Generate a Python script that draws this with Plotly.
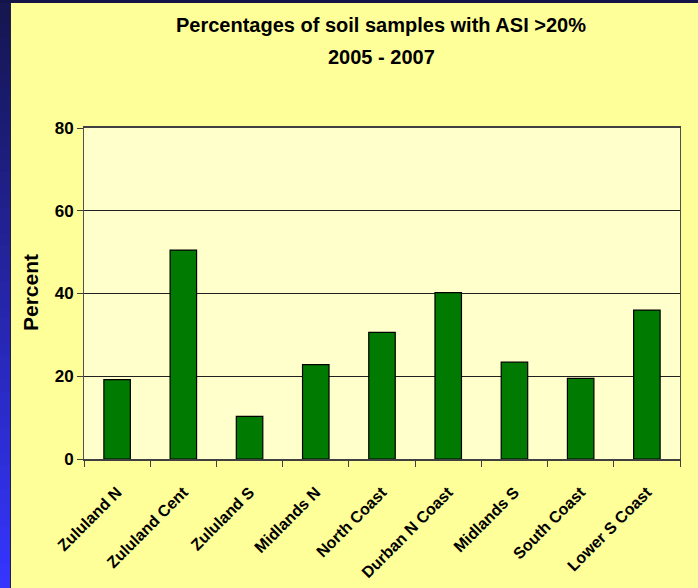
import plotly.graph_objects as go

categories = ["Zululand N", "Zululand Cent", "Zululand S", "Midlands N", "North Coast",
              "Durban N Coast", "Midlands S", "South Coast", "Lower S Coast"]
percent = [19.2, 50.5, 10.3, 22.8, 30.6, 40.2, 23.4, 19.5, 36.0]
y_ticks = [0, 20, 40, 60, 80]
title_lines = ["Percentages of soil samples with ASI >20%", "2005 - 2007"]
y_title = "Percent"

W, H = 698, 588
FONT = "Liberation Sans, Arial, sans-serif"

fig = go.Figure()
fig.add_trace(go.Bar(
    x=categories, y=percent,
    marker=dict(color="#007A00", line=dict(color="#000000", width=1.2)),
))

fig.update_layout(
    width=W, height=H,
    margin=dict(l=84, r=18, t=128, b=129, autoexpand=False),
    paper_bgcolor="#FFFF99",
    plot_bgcolor="#FFFFCC",
    bargap=0.6,
    showlegend=False,
    font=dict(family=FONT, color="#000000"),
)

# Paper coords: plot area x 84..680 (596 px), y 128..459 (331 px)
pw, ph = 596, 331
def px(xpix):
    return (xpix - 84) / pw
def py(ypix):
    return (459 - ypix) / ph

shapes = []
n = 48
for i in range(n):
    t = i / (n - 1)
    r = int(0x16 + (0x35 - 0x16) * t)
    g = int(0x16 + (0x35 - 0x16) * t)
    b = int(0x50 + (0xFF - 0x50) * t)
    shapes.append(dict(type="rect", xref="paper", yref="paper", layer="below",
                       x0=px(0), x1=px(10),
                       y0=py(588 * (i + 1) / n + 1), y1=py(588 * i / n),
                       fillcolor=f"rgb({r},{g},{b})", line=dict(width=0)))
shapes.append(dict(type="rect", xref="paper", yref="paper", layer="below",
                   x0=px(0), x1=px(698), y0=py(3), y1=py(0),
                   fillcolor="#141448", line=dict(width=0)))
shapes.append(dict(type="line", xref="paper", yref="paper", layer="below",
                   x0=px(10.5), x1=px(10.5), y0=py(588), y1=py(3),
                   line=dict(color="#202040", width=1)))
fig.update_layout(shapes=shapes)

fig.add_annotation(text=title_lines[0], xref="paper", yref="paper",
                   x=px(381), y=py(25), xanchor="center", yanchor="middle", showarrow=False,
                   font=dict(size=20, family=FONT, color="#000000", weight="bold"))
fig.add_annotation(text=title_lines[1], xref="paper", yref="paper",
                   x=px(381), y=py(57), xanchor="center", yanchor="middle", showarrow=False,
                   font=dict(size=20, family=FONT, color="#000000", weight="bold"))
fig.add_annotation(text=y_title, xref="paper", yref="paper",
                   x=px(30), y=py(293), xanchor="center", yanchor="middle",
                   showarrow=False, textangle=-90,
                   font=dict(size=21, family=FONT, color="#000000", weight="bold"))

fig.update_xaxes(
    tickangle=-45,
    tickfont=dict(size=16, family=FONT, color="#000000", weight="bold"),
    ticks="outside", ticklen=6, tickcolor="#404040",
    tickson="boundaries",
    ticklabelstandoff=16,
    showline=True, linecolor="#404040", linewidth=1.5,
    mirror=True,
    showgrid=False,
)
fig.update_yaxes(
    range=[0, 80],
    tickvals=y_ticks,
    tickfont=dict(size=17, family=FONT, color="#000000", weight="bold"),
    ticks="outside", ticklen=6, tickcolor="#404040",
    showline=True, linecolor="#505050", linewidth=1,
    mirror=True,
    showgrid=True, gridcolor="#202020", gridwidth=1,
    zeroline=False,
)

fig.write_html("out.html", config={"displayModeBar": False},
               post_script="document.body.style.margin='0';document.body.style.overflow='hidden';")
